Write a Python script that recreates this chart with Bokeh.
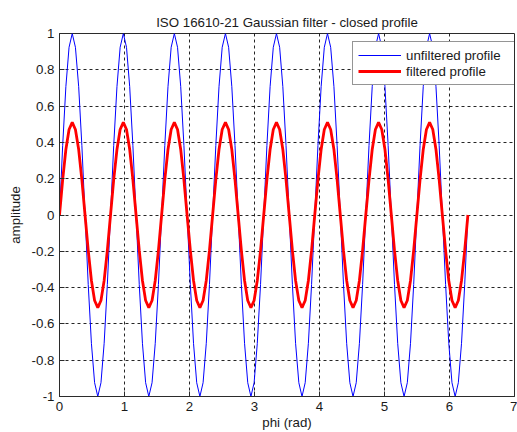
from bokeh.plotting import figure
from bokeh.embed import file_html
from bokeh.resources import INLINE
from bokeh.models import FixedTicker, CustomJSTickFormatter, Legend, LegendItem, Range1d

title_text = "ISO 16610-21 Gaussian filter - closed profile"
x_label = "phi (rad)"
y_label = "amplitude"
series_names = ["unfiltered profile", "filtered profile"]
x_ticks = [0, 1, 2, 3, 4, 5, 6, 7]
y_ticks = [-1, -0.8, -0.6, -0.4, -0.2, 0, 0.2, 0.4, 0.6, 0.8, 1]

phi = [
    0.000, 0.049, 0.098, 0.147, 0.196, 0.245, 0.295, 0.344, 0.393, 0.442, 0.491, 0.540, 0.589, 0.638, 0.687, 0.736,
    0.785, 0.834, 0.884, 0.933, 0.982, 1.031, 1.080, 1.129, 1.178, 1.227, 1.276, 1.325, 1.374, 1.424, 1.473, 1.522,
    1.571, 1.620, 1.669, 1.718, 1.767, 1.816, 1.865, 1.914, 1.963, 2.013, 2.062, 2.111, 2.160, 2.209, 2.258, 2.307,
    2.356, 2.405, 2.454, 2.503, 2.553, 2.602, 2.651, 2.700, 2.749, 2.798, 2.847, 2.896, 2.945, 2.994, 3.043, 3.093,
    3.142, 3.191, 3.240, 3.289, 3.338, 3.387, 3.436, 3.485, 3.534, 3.583, 3.632, 3.682, 3.731, 3.780, 3.829, 3.878,
    3.927, 3.976, 4.025, 4.074, 4.123, 4.172, 4.222, 4.271, 4.320, 4.369, 4.418, 4.467, 4.516, 4.565, 4.614, 4.663,
    4.712, 4.762, 4.811, 4.860, 4.909, 4.958, 5.007, 5.056, 5.105, 5.154, 5.203, 5.252, 5.301, 5.351, 5.400, 5.449,
    5.498, 5.547, 5.596, 5.645, 5.694, 5.743, 5.792, 5.841, 5.890, 5.940, 5.989, 6.038, 6.087, 6.136, 6.185, 6.234,
    6.283,
]

unfiltered = [
    0, 0.383, 0.707, 0.924, 1, 0.924, 0.707, 0.383, 0, -0.383, -0.707, -0.924, -1, -0.924, -0.707, -0.383,
    0, 0.383, 0.707, 0.924, 1, 0.924, 0.707, 0.383, 0, -0.383, -0.707, -0.924, -1, -0.924, -0.707, -0.383,
    0, 0.383, 0.707, 0.924, 1, 0.924, 0.707, 0.383, 0, -0.383, -0.707, -0.924, -1, -0.924, -0.707, -0.383,
    0, 0.383, 0.707, 0.924, 1, 0.924, 0.707, 0.383, 0, -0.383, -0.707, -0.924, -1, -0.924, -0.707, -0.383,
    0, 0.383, 0.707, 0.924, 1, 0.924, 0.707, 0.383, 0, -0.383, -0.707, -0.924, -1, -0.924, -0.707, -0.383,
    0, 0.383, 0.707, 0.924, 1, 0.924, 0.707, 0.383, 0, -0.383, -0.707, -0.924, -1, -0.924, -0.707, -0.383,
    0, 0.383, 0.707, 0.924, 1, 0.924, 0.707, 0.383, 0, -0.383, -0.707, -0.924, -1, -0.924, -0.707, -0.383,
    0, 0.383, 0.707, 0.924, 1, 0.924, 0.707, 0.383, 0, -0.383, -0.707, -0.924, -1, -0.924, -0.707, -0.383,
    0,
]

filtered = [
    0, 0.195, 0.361, 0.471, 0.51, 0.471, 0.361, 0.195, 0, -0.195, -0.361, -0.471, -0.51, -0.471, -0.361, -0.195,
    0, 0.195, 0.361, 0.471, 0.51, 0.471, 0.361, 0.195, 0, -0.195, -0.361, -0.471, -0.51, -0.471, -0.361, -0.195,
    0, 0.195, 0.361, 0.471, 0.51, 0.471, 0.361, 0.195, 0, -0.195, -0.361, -0.471, -0.51, -0.471, -0.361, -0.195,
    0, 0.195, 0.361, 0.471, 0.51, 0.471, 0.361, 0.195, 0, -0.195, -0.361, -0.471, -0.51, -0.471, -0.361, -0.195,
    0, 0.195, 0.361, 0.471, 0.51, 0.471, 0.361, 0.195, 0, -0.195, -0.361, -0.471, -0.51, -0.471, -0.361, -0.195,
    0, 0.195, 0.361, 0.471, 0.51, 0.471, 0.361, 0.195, 0, -0.195, -0.361, -0.471, -0.51, -0.471, -0.361, -0.195,
    0, 0.195, 0.361, 0.471, 0.51, 0.471, 0.361, 0.195, 0, -0.195, -0.361, -0.471, -0.51, -0.471, -0.361, -0.195,
    0, 0.195, 0.361, 0.471, 0.51, 0.471, 0.361, 0.195, 0, -0.195, -0.361, -0.471, -0.51, -0.471, -0.361, -0.195,
    0,
]

FONT = "Liberation Sans"
FS = "13.3px"
TXT = "#1a1a1a"

p = figure(
    width=517, height=432,
    output_backend="svg", toolbar_location=None,
    x_range=Range1d(0, 7), y_range=Range1d(-1, 1),
    min_border_left=59, min_border_right=3, min_border_top=33, min_border_bottom=30,
    background_fill_color="white", border_fill_color="white",
    title=title_text,
)
p.title.align = "center"
p.title.text_font = FONT
p.title.text_font_size = FS
p.title.text_font_style = "normal"
p.title.text_color = TXT
p.title.standoff = 8

p.outline_line_color = "#2b2b2b"
p.outline_line_width = 1

for ax in (p.xaxis[0], p.yaxis[0]):
    ax.major_label_text_font = FONT
    ax.major_label_text_font_size = FS
    ax.major_label_text_color = TXT
    ax.axis_label_text_font = FONT
    ax.axis_label_text_font_size = FS
    ax.axis_label_text_font_style = "normal"
    ax.axis_label_text_color = TXT
    ax.axis_line_color = "#2b2b2b"
    ax.major_tick_line_color = "#2b2b2b"
    ax.major_tick_in = 5
    ax.major_tick_out = 0
    ax.minor_tick_line_color = None
    ax.major_label_standoff = 5

p.xaxis[0].axis_label_standoff = 1
p.yaxis[0].axis_label_standoff = 6
p.xaxis[0].ticker = FixedTicker(ticks=x_ticks)
p.yaxis[0].ticker = FixedTicker(ticks=y_ticks)
p.yaxis[0].formatter = CustomJSTickFormatter(code="return String(Math.round(tick*10)/10);")
p.xaxis[0].axis_label = x_label
p.yaxis[0].axis_label = y_label

for g in (p.xgrid[0], p.ygrid[0]):
    g.grid_line_color = "black"
    g.grid_line_width = 1
    g.grid_line_dash = "3 3"
    g.grid_line_alpha = 0.85
p.xgrid[0].ticker = FixedTicker(ticks=x_ticks)
p.ygrid[0].ticker = FixedTicker(ticks=y_ticks)

r1 = p.line(phi, unfiltered, line_color="#0000ff", line_width=1)
r2 = p.line(phi, filtered, line_color="#ff0000", line_width=2.8)

legend = Legend(
    items=[LegendItem(label=series_names[0], renderers=[r1]),
           LegendItem(label=series_names[1], renderers=[r2])],
    location=(293, 311),
    label_text_font=FONT, label_text_font_size=FS, label_text_color=TXT,
    glyph_width=43, glyph_height=16, label_height=16, label_standoff=5,
    label_width=103, padding=5, spacing=0, margin=0,
    border_line_color="#2b2b2b", border_line_width=1,
    background_fill_color="white", background_fill_alpha=1,
)
p.add_layout(legend, "center")

open("out.html", "w").write(file_html(p, INLINE))
